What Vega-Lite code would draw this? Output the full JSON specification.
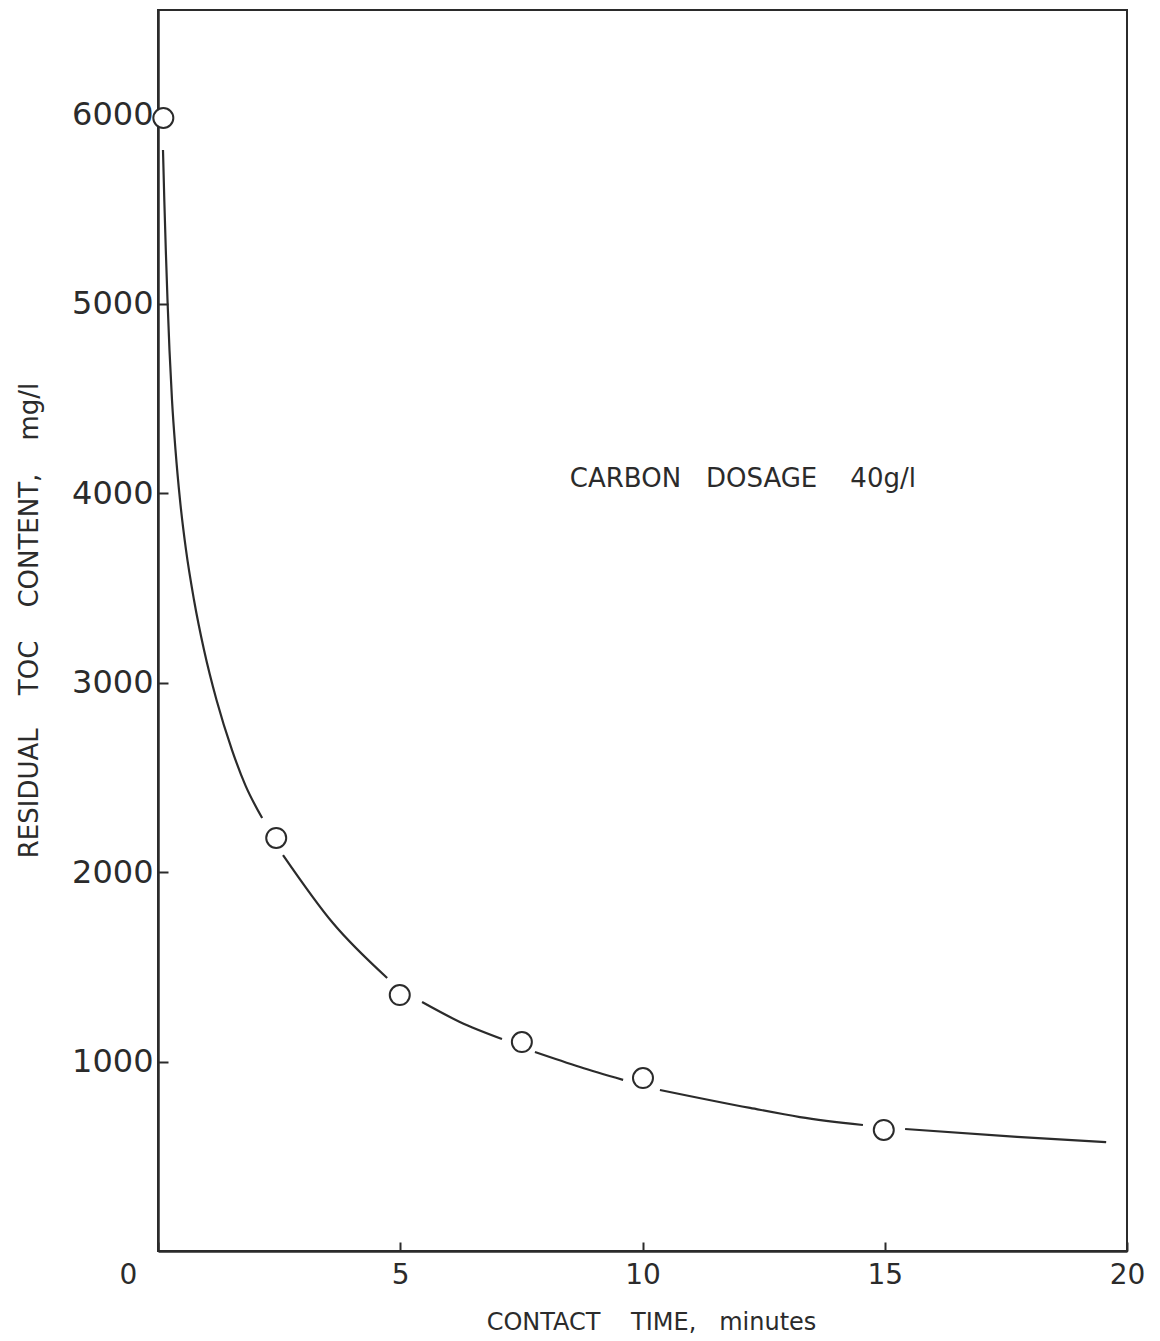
{
  "$schema": "https://vega.github.io/schema/vega-lite/v6.json",
  "width": 969,
  "height": 1241,
  "autosize": "none",
  "padding": {"left": 158, "top": 10, "right": 33, "bottom": 90},
  "background": "white",
  "config": {
    "view": {"stroke": "#2b2b2b", "strokeWidth": 2},
    "font": "DejaVu Sans"
  },
  "datasets": {
    "curve": [
      {"segment": 1, "time": 0.103, "toc": 5811},
      {"segment": 1, "time": 0.130, "toc": 5547},
      {"segment": 1, "time": 0.161, "toc": 5283},
      {"segment": 1, "time": 0.196, "toc": 5019},
      {"segment": 1, "time": 0.237, "toc": 4755},
      {"segment": 1, "time": 0.289, "toc": 4491},
      {"segment": 1, "time": 0.361, "toc": 4228},
      {"segment": 1, "time": 0.454, "toc": 3964},
      {"segment": 1, "time": 0.578, "toc": 3700},
      {"segment": 1, "time": 0.743, "toc": 3436},
      {"segment": 1, "time": 0.950, "toc": 3172},
      {"segment": 1, "time": 1.208, "toc": 2908},
      {"segment": 1, "time": 1.528, "toc": 2644},
      {"segment": 1, "time": 1.800, "toc": 2460},
      {"segment": 1, "time": 2.150, "toc": 2285},
      {"segment": 2, "time": 2.58, "toc": 2090},
      {"segment": 2, "time": 3.61, "toc": 1731},
      {"segment": 2, "time": 4.73, "toc": 1441},
      {"segment": 3, "time": 5.45, "toc": 1314},
      {"segment": 3, "time": 6.23, "toc": 1209},
      {"segment": 3, "time": 7.10, "toc": 1119},
      {"segment": 4, "time": 7.78, "toc": 1050},
      {"segment": 4, "time": 8.71, "toc": 971},
      {"segment": 4, "time": 9.60, "toc": 903},
      {"segment": 5, "time": 10.36, "toc": 850},
      {"segment": 5, "time": 12.22, "toc": 755},
      {"segment": 5, "time": 13.25, "toc": 707},
      {"segment": 5, "time": 14.55, "toc": 665},
      {"segment": 6, "time": 15.42, "toc": 644},
      {"segment": 6, "time": 17.73, "toc": 602},
      {"segment": 6, "time": 19.57, "toc": 575}
    ],
    "points": [
      {"time": 0.11, "toc": 5980},
      {"time": 2.44, "toc": 2180},
      {"time": 4.99, "toc": 1351},
      {"time": 7.51, "toc": 1103},
      {"time": 10.01, "toc": 913},
      {"time": 14.98, "toc": 639}
    ],
    "note": [
      {"time": 8.5, "toc": 4030, "label": "CARBON\u00a0\u00a0\u00a0DOSAGE\u00a0\u00a0\u00a0\u00a040g/l"}
    ]
  },
  "layer": [
    {
      "data": {"name": "curve"},
      "mark": {"type": "line", "interpolate": "monotone", "color": "#2b2b2b", "strokeWidth": 2.2},
      "encoding": {
        "x": {
          "field": "time",
          "type": "quantitative",
          "scale": {"domain": [0, 20], "nice": false, "zero": false},
          "axis": {
            "title": "CONTACT\u00a0\u00a0\u00a0\u00a0TIME,\u00a0\u00a0\u00a0minutes",
            "values": [0, 5, 10, 15, 20],
            "format": "d",
            "grid": false,
            "tickSize": -9,
            "tickWidth": 2,
            "tickColor": "#2b2b2b",
            "domainColor": "#2b2b2b",
            "domainWidth": 2.5,
            "labelFontSize": 28,
            "labelColor": "#2b2b2b",
            "labelPadding": 19,
            "labelFlush": false,
            "labelOverlap": false,
            "labelBound": false,
            "labelOffset": {"expr": "datum.value === 0 ? -30 : 0"},
            "titleFontSize": 24,
            "titleFontWeight": "normal",
            "titleColor": "#2b2b2b",
            "titleX": 493,
            "titleY": 78,
            "titleAlign": "center",
            "titleBaseline": "alphabetic"
          }
        },
        "y": {
          "field": "toc",
          "type": "quantitative",
          "scale": {"domain": [0, 6550], "nice": false, "zero": false},
          "axis": {
            "title": "RESIDUAL\u00a0\u00a0\u00a0\u00a0TOC\u00a0\u00a0\u00a0\u00a0CONTENT,\u00a0\u00a0\u00a0\u00a0mg/l",
            "values": [1000, 2000, 3000, 4000, 5000, 6000],
            "format": "d",
            "grid": false,
            "tickSize": -10,
            "tickWidth": 2,
            "tickColor": "#2b2b2b",
            "domainColor": "#2b2b2b",
            "domainWidth": 2.5,
            "labelFontSize": 32,
            "labelColor": "#2b2b2b",
            "labelPadding": 15,
            "labelOverlap": false,
            "labelBound": false,
            "titleFontSize": 26,
            "titleFontWeight": "normal",
            "titleColor": "#2b2b2b",
            "titleAngle": 270,
            "titleX": -121,
            "titleY": 610,
            "titleAlign": "center",
            "titleBaseline": "alphabetic"
          }
        },
        "detail": {"field": "segment", "type": "nominal"}
      }
    },
    {
      "data": {"name": "points"},
      "mark": {"type": "point", "shape": "circle", "filled": false, "fill": "white", "fillOpacity": 1, "stroke": "#2b2b2b", "strokeWidth": 2, "size": 400, "opacity": 1},
      "encoding": {
        "x": {"field": "time", "type": "quantitative"},
        "y": {"field": "toc", "type": "quantitative"}
      }
    },
    {
      "data": {"name": "note"},
      "mark": {"type": "text", "align": "left", "baseline": "alphabetic", "fontSize": 26, "color": "#2b2b2b"},
      "encoding": {
        "x": {"field": "time", "type": "quantitative"},
        "y": {"field": "toc", "type": "quantitative"},
        "text": {"field": "label"}
      }
    }
  ]
}
